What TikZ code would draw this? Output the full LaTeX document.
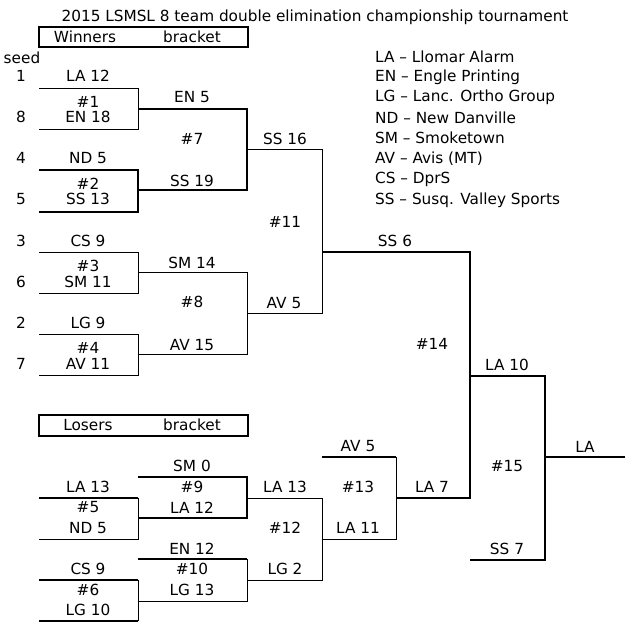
\documentclass[tikz,border=0pt]{standalone}
\usepackage{fontspec}
\setmainfont{DejaVu Sans}
\begin{document}
\begin{tikzpicture}[x=1pt,y=-1pt,
  t/.style={font=\fontsize{15.3}{17}\selectfont,inner sep=0pt,anchor=center},
  lg/.style={t,anchor=west},
  thn/.style={line width=0.9pt},
  thk/.style={line width=1.8pt}]
\useasboundingbox (0,0) rectangle (640,630);
\node[t] (title) at (315,17) {2015 LSMSL 8 team double elimination championship tournament};
\draw[thk] (39,27) rectangle (248,47);
\node[t] (wb1) at (85,37) {Winners};
\node[t] (wb2) at (192,37) {bracket};
\node[t] (seed) at (22,58) {seed};
\draw[thk] (39,415) rectangle (248,436);
\node[t] (lb1) at (88,425) {Losers};
\node[t] (lb2) at (192,425) {bracket};
% legend
\foreach \y/\s [count=\i] in {57/LA -- Llomar Alarm,77/EN -- Engle Printing,97/LG -- Lanc. Ortho Group,118/ND -- New Danville,138/SM -- Smoketown,159/AV -- Avis (MT),179/CS -- DprS,200/SS -- Susq. Valley Sports}
  \node[lg] (leg\i) at (375,\y) {\s};
% seeds
\foreach \y/\s [count=\i] in {76/1,117/8,158/4,199/5,241/3,282/6,323/2,364/7}
  \node[t] (sd\i) at (21,\y) {\s};
% winners round 1
\draw[thn] (39,88) -- (138,88) -- (138,129) -- (39,129);
\draw[thk] (39,170) -- (138,170) -- (138,212) -- (39,212);
\draw[thn] (39,252) -- (138,252) -- (138,293) -- (39,293);
\draw[thn] (39,334) -- (138,334) -- (138,375) -- (39,375);
\node[t] (m1a) at (88,76) {LA 12}; \node[t] (m1) at (88,102) {\#1}; \node[t] (m1b) at (88,117) {EN 18};
\node[t] (m2a) at (88,158) {ND 5}; \node[t] (m2) at (88,184) {\#2}; \node[t] (m2b) at (88,199) {SS 13};
\node[t] (m3a) at (88,241) {CS 9}; \node[t] (m3) at (88,266) {\#3}; \node[t] (m3b) at (88,282) {SM 11};
\node[t] (m4a) at (88,323) {LG 9}; \node[t] (m4) at (88,348) {\#4}; \node[t] (m4b) at (88,364) {AV 11};
% winners round 2
\draw[thk] (138,109) -- (247,109) -- (247,190) -- (138,190);
\draw[thn] (138,272) -- (247,272) -- (247,354) -- (138,354);
\node[t] (m7a) at (192,97) {EN 5}; \node[t] (m7) at (192,139) {\#7}; \node[t] (m7b) at (192,181) {SS 19};
\node[t] (m8a) at (192,263) {SM 14}; \node[t] (m8) at (192,302) {\#8}; \node[t] (m8b) at (192,345) {AV 15};
% winners round 3
\draw[thn] (247,149) -- (322,149) -- (322,313) -- (247,313);
\node[t] (m11a) at (285,139) {SS 16}; \node[t] (m11) at (285,222) {\#11}; \node[t] (m11b) at (284,303) {AV 5};
\draw[thk] (322,252) -- (470,252) -- (470,498) -- (396,498);
\node[t] (m14a) at (395,241) {SS 6}; \node[t] (m14) at (432,344) {\#14}; \node[t] (m14b) at (432,487) {LA 7};
\draw[thk] (470,376) -- (545,376) -- (545,560) -- (470,560);
\node[t] (m15a) at (507,365) {LA 10}; \node[t] (m15) at (507,466) {\#15}; \node[t] (m15b) at (507,549) {SS 7};
\draw[thk] (545,457) -- (625,457);
\node[t] (champ) at (585,447) {LA};
% losers
\draw[thk] (39,498) -- (138,498); \draw[thn] (138,498) -- (138,539) -- (39,539);
\draw[thk] (39,580) -- (138,580); \draw[thn] (138,580) -- (138,621); \draw[thk] (138,621) -- (39,621);
\node[t] (m5a) at (88,487) {LA 13}; \node[t] (m5) at (88,507) {\#5}; \node[t] (m5b) at (88,528) {ND 5};
\node[t] (m6a) at (88,569) {CS 9}; \node[t] (m6) at (88,590) {\#6}; \node[t] (m6b) at (88,610) {LG 10};
\draw[thk] (138,477) -- (247,477) -- (247,518) -- (138,518);
\draw[thk] (138,559) -- (247,559); \draw[thn] (247,559) -- (247,601) -- (138,601);
\node[t] (m9a) at (192,466) {SM 0}; \node[t] (m9) at (192,487) {\#9}; \node[t] (m9b) at (192,508) {LA 12};
\node[t] (m10a) at (192,549) {EN 12}; \node[t] (m10) at (192,569) {\#10}; \node[t] (m10b) at (192,590) {LG 13};
\draw[thn] (247,498) -- (322,498) -- (322,580) -- (247,580);
\node[t] (m12a) at (285,487) {LA 13}; \node[t] (m12) at (285,528) {\#12}; \node[t] (m12b) at (285,569) {LG 2};
\draw[thk] (322,457) -- (396,457); \draw[thn] (396,457) -- (396,539) -- (322,539);
\node[t] (m13a) at (358,446) {AV 5}; \node[t] (m13) at (358,487) {\#13}; \node[t] (m13b) at (358,528) {LA 11};
\end{tikzpicture}
\end{document}
